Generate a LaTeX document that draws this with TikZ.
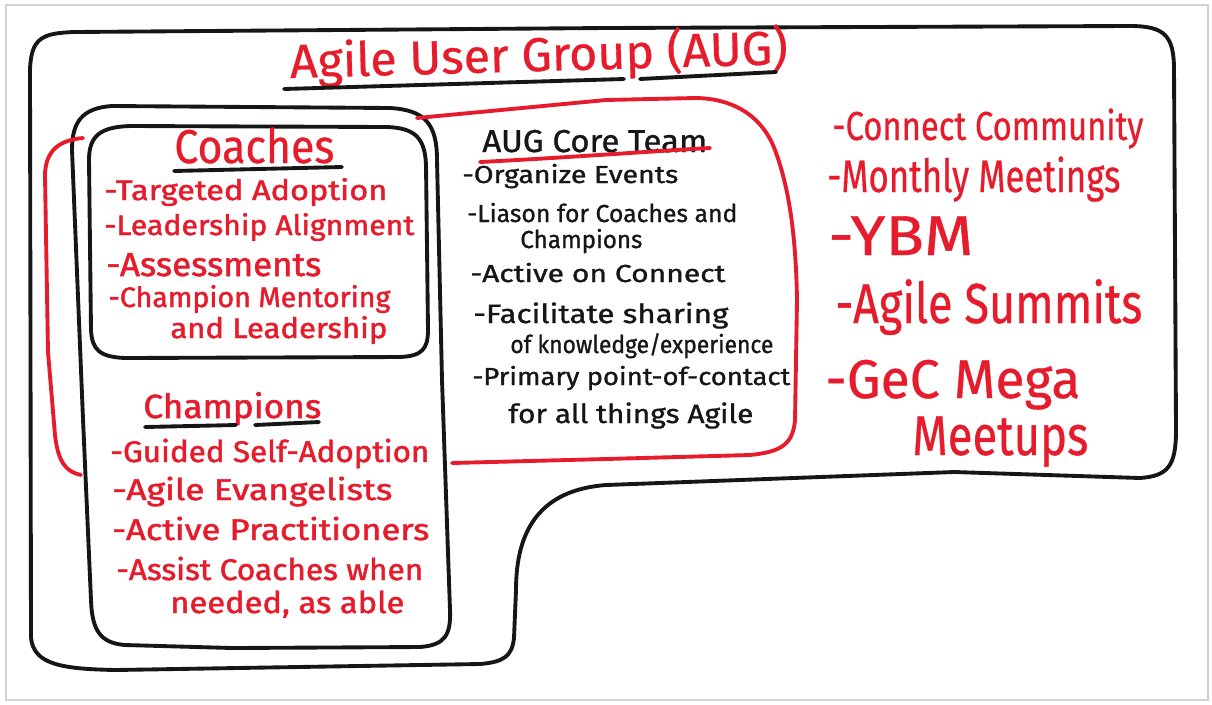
\documentclass[tikz,border=0pt]{standalone}
\usepackage{fontspec}
\usepackage{graphicx}
\newfontfamily\pen{Fira Sans}[FakeBold=1.5]
\newfontfamily\penbig{Fira Sans}[FakeBold=0.6]
\newfontfamily\penthin{Fira Sans}[FakeBold=1.0]
\definecolor{marker}{RGB}{230,28,44}
\definecolor{ink}{RGB}{22,22,22}
\newlength\pxu \setlength\pxu{0.02cm}
% #1 target width in px, #2 font size in pt, #3 text
\newcommand\hand[3]{\resizebox{#1\pxu}{\height}{\fontsize{#2}{#2}\pen #3}}
\newcommand\handbig[3]{\resizebox{#1\pxu}{\height}{\fontsize{#2}{#2}\penbig #3}}
\newcommand\handthin[3]{\resizebox{#1\pxu}{\height}{\fontsize{#2}{#2}\penthin #3}}
\tikzset{
  txt/.style={inner sep=0pt, anchor=base west},
  redtxt/.style={txt, text=marker},
  inktxt/.style={txt, text=ink},
  blkline/.style={draw=ink, line width=2.2pt, line cap=round, line join=round},
  redline/.style={draw=marker, line width=2.2pt, line cap=round, line join=round},
}
\begin{document}
\begin{tikzpicture}[x=0.02cm, y=-0.02cm]
\useasboundingbox (0,0) rectangle (1212,704);
\fill[white] (0,0) rectangle (1212,704);
\draw[gray!35, line width=0.8pt] (6,5) rectangle (1208,700);

% outer frame of the user group
\draw[blkline] (30,70) .. controls (31,38) and (42,33) .. (75,32) -- (606,28) -- (1130,26)
  .. controls (1165,26) and (1174,36) .. (1174,70) -- (1176,430)
  .. controls (1176,466) and (1168,476) .. (1140,478) -- (954,472) -- (606,485)
  .. controls (540,490) and (516,530) .. (516,590) -- (514,638)
  .. controls (512,656) and (504,662) .. (480,664) -- (116,670)
  .. controls (60,669) and (34,664) .. (31,638) -- cycle;

% champions box
\draw[blkline] (72,150) .. controls (72,122) and (82,108) .. (112,106) -- (390,108)
  .. controls (425,110) and (437,124) .. (437,160) -- (442,380) -- (450,610)
  .. controls (451,635) and (445,645) .. (420,647) -- (232,648) -- (125,645)
  .. controls (100,643) and (92,630) .. (91,600) -- (83,419) -- cycle;

% coaches box
\draw[blkline] (89,160) .. controls (89,136) and (100,127) .. (130,126) -- (387,127)
  .. controls (415,128) and (425,138) .. (426,165) -- (428,330)
  .. controls (428,350) and (421,356) .. (400,357) -- (125,358)
  .. controls (100,357) and (92,350) .. (91,330) -- cycle;

% core team box
\draw[redline] (417,118) -- (606,100) -- (695,98)
  .. controls (725,98) and (760,110) .. (775,150)
  .. controls (790,190) and (796,240) .. (797,300) -- (795,420)
  .. controls (793,445) and (780,452) .. (750,455) -- (606,459) -- (452,463);

% bracket joining coaches and champions
\draw[redline] (83,138) .. controls (60,140) and (45,150) .. (45,176) -- (48,352) -- (55,435)
  .. controls (58,462) and (66,472) .. (81,475);

% title
\node[redtxt, rotate=1.6] (title) at (290,78) {\handbig{498}{27}{Agile User Group (AUG)}};
\draw[blkline] (284,89) -- (624,79);
\draw[blkline] (640,79) -- (776,72);

% coaches
\node[redtxt] (coaches) at (174,163) {\handbig{160}{27}{Coaches}};
\draw[blkline] (174,171) -- (342,167);
\node[redtxt] (c1) at (104,200) {\hand{283}{16}{-Targeted Adoption}};
\node[redtxt] (c2) at (104,235) {\hand{310}{16}{-Leadership Alignment}};
\node[redtxt] (c3) at (106,276) {\hand{215}{19}{-Assessments}};
\node[redtxt] (c4) at (108,307) {\hand{282}{16}{-Champion Mentoring}};
\node[redtxt] (c5) at (170,338) {\hand{217}{16}{and Leadership}};

% champions
\node[redtxt] (champions) at (143,418) {\hand{178}{19}{Champions}};
\draw[blkline] (145,427) -- (236,425);
\draw[blkline] (255,425) -- (319,422);
\node[redtxt] (h1) at (110,462) {\hand{319}{17}{-Guided Self-Adoption}};
\node[redtxt] (h2) at (112,500) {\hand{280}{17}{-Agile Evangelists}};
\node[redtxt] (h3) at (112,540) {\hand{317}{17}{-Active Practitioners}};
\node[redtxt] (h4) at (116,580) {\hand{307}{17}{-Assist Coaches when}};
\node[redtxt] (h5) at (170,613) {\hand{234}{17}{needed, as able}};

% core team
\node[inktxt] (core) at (482,152) {\handthin{225}{18}{AUG Core Team}};
\draw[redline] (480,162) .. controls (560,158) and (640,152) .. (710,148);
\node[inktxt] (k1) at (462,183) {\handthin{216}{14}{-Organize Events}};
\node[inktxt] (k2) at (467,222) {\handthin{270}{14}{-Liason for Coaches and}};
\node[inktxt] (k3) at (520,248) {\handthin{122}{14}{Champions}};
\node[inktxt] (k4) at (470,282) {\handthin{255}{14}{-Active on Connect}};
\node[inktxt] (k5) at (473,323) {\handthin{255}{15}{-Facilitate sharing}};
\node[inktxt] (k6) at (510,353) {\handthin{263}{14}{of knowledge/experience}};
\node[inktxt] (k7) at (472,385) {\handthin{318}{14}{-Primary point-of-contact}};
\node[inktxt] (k8) at (508,423) {\handthin{245}{15}{for all things Agile}};

% events
\node[redtxt] (e1) at (832,140) {\handbig{311}{23}{-Connect Community}};
\node[redtxt] (e2) at (827,192) {\handbig{293}{26}{-Monthly Meetings}};
\node[redtxt] (e3) at (828,255) {\handbig{145}{32}{-YBM}};
\node[redtxt] (e4) at (835,323) {\handbig{307}{32}{-Agile Summits}};
\node[redtxt] (e5) at (825,398) {\handbig{255}{31}{-GeC Mega}};
\node[redtxt] (e6) at (912,455) {\handbig{176}{32}{Meetups}};
\end{tikzpicture}
\end{document}
